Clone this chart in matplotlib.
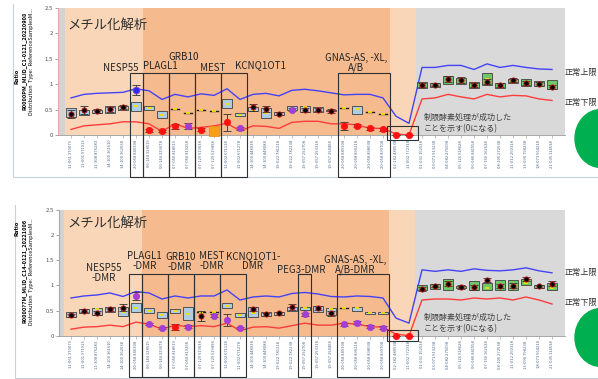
import numpy as np
import matplotlib.pyplot as plt
from matplotlib.patches import Rectangle, Ellipse

plt.rcParams['font.family'] = ['Noto Sans CJK JP', 'DejaVu Sans']

nan = np.nan

# probe names along the x axis (chromosome-position)
probes = ['11-061 370079', '11-001 971913', '11-308 876283', '14-100 361610', '14-100 362038',
          '20-058 840308', '06-144 328519', '06-144 329078', '07-050 818519', '07-050 819258',
          '07-129 919038', '07-129 919898', '11-002 671118', '11-002 671278', '14-100 448038',
          '14-100 448088', '19-022 781218', '19-022 782238', '19-057 292708', '19-057 293318',
          '19-057 294408', '20-058 889308', '20-058 890218', '20-058 898038', '20-058 899708',
          '02-182 480538', '11-002 772318', '01-031 152538', '03-071 913238', '04-082 275098',
          '05-126 918628', '06-080 841558', '07-159 162638', '08-105 272538', '11-012 260318',
          '13-090 798238', '18-073 564218', '21-035 114538']

# ---- upper chart: sample R0000PM ----
top_ratio = [0.42, 0.50, 0.47, 0.51, 0.55, 0.89, 0.09, 0.07, 0.17, 0.17,
             0.10, 0.08, 0.25, 0.13, 0.55, 0.51, 0.42, 0.50, 0.49, 0.50,
             0.48, 0.18, 0.18, 0.13, 0.11, 0.0, 0.0, 0.99, 0.99, 1.10,
             1.08, 0.98, 1.05, 0.99, 1.08, 1.03, 1.01, 0.95]
top_err = [0.08, 0.08, 0.04, 0.05, 0.04, 0.10, 0.03, 0.02, 0.05, 0.06,
           0.03, 0.0, 0.17, 0.03, 0.07, 0.06, 0.03, 0.03, 0.04, 0.03,
           0.04, 0.08, 0.03, 0.03, 0.03, 0.0, 0.0, 0.04, 0.03, 0.06,
           0.06, 0.04, 0.05, 0.04, 0.04, 0.04, 0.04, 0.04]
top_kind = ['k', 'k', 'k', 'k', 'k', 'b', 'r', 'r', 'r', 'p',
            'r', 'o', 'r', 'p', 'k', 'k', 'k', 'p', 'k', 'k',
            'k', 'r', 'r', 'r', 'r', 'r', 'r', 'k', 'k', 'k',
            'k', 'k', 'k', 'k', 'k', 'k', 'k', 'k']
top_box_lo = [0.35, 0.40, 0.44, 0.44, 0.49, 0.47, 0.49, 0.33, 0.51, 0.43,
              0.50, 0.47, 0.53, 0.37, 0.47, 0.33, 0.39, 0.49, 0.45, 0.45,
              0.47, 0.53, 0.42, 0.45, 0.42, nan, nan, 0.93, 0.95, 1.00,
              1.00, 0.93, 0.98, 0.93, 1.02, 0.97, 0.97, 0.90]
top_box_hi = [0.53, 0.50, 0.50, 0.58, 0.58, 0.65, 0.58, 0.47, 0.51, 0.43,
              0.50, 0.47, 0.70, 0.43, 0.55, 0.53, 0.45, 0.57, 0.58, 0.55,
              0.50, 0.53, 0.57, 0.45, 0.42, nan, nan, 1.05, 1.03, 1.17,
              1.13, 1.05, 1.23, 1.03, 1.10, 1.10, 1.07, 1.08]
top_box_med = [0.42, 0.47, 0.47, 0.51, 0.55, 0.57, 0.53, 0.40, 0.51, 0.43,
               0.50, 0.47, 0.61, 0.40, 0.49, 0.43, 0.42, 0.54, 0.55, 0.50,
               0.48, 0.53, 0.51, 0.45, 0.42, nan, nan, 0.99, 0.99, 1.08,
               1.07, 0.98, 1.10, 0.97, 1.05, 1.03, 1.02, 0.97]
top_upper = [0.73, 0.80, 0.82, 0.83, 0.84, 0.91, 0.87, 0.70, 0.80, 0.75,
             0.81, 0.78, 0.91, 0.70, 0.80, 0.82, 0.77, 0.88, 0.90, 0.87,
             0.83, 0.79, 0.80, 0.80, 0.73, 0.37, 0.23, 1.33, 1.33, 1.37,
             1.37, 1.29, 1.40, 1.33, 1.37, 1.33, 1.30, 1.29]
top_lower = [0.11, 0.18, 0.20, 0.22, 0.26, 0.26, 0.22, 0.07, 0.22, 0.13,
             0.15, 0.18, 0.23, 0.08, 0.18, 0.17, 0.13, 0.25, 0.27, 0.27,
             0.22, 0.22, 0.20, 0.13, 0.13, 0.02, 0.0, 0.71, 0.73, 0.80,
             0.75, 0.71, 0.80, 0.75, 0.78, 0.77, 0.71, 0.68]
top_genes = ['NESP55', 'PLAGL1', 'GRB10', 'MEST', 'KCNQ1OT1', 'GNAS-AS, -XL,\nA/B']
top_gene_probes = [[5], [6, 7], [8, 9], [10, 11], [12, 13], [21, 22, 23, 24]]

# ---- lower chart: sample R0000?7M ----
bot_ratio = [0.41, 0.50, 0.46, 0.53, 0.56, 0.79, 0.23, 0.15, 0.18, 0.18,
             0.40, 0.40, 0.31, 0.15, 0.53, 0.43, 0.45, 0.57, 0.43, 0.55,
             0.45, 0.23, 0.26, 0.18, 0.16, 0.0, 0.0, 0.93, 0.99, 1.03,
             0.97, 0.96, 1.11, 0.99, 0.99, 1.13, 0.98, 1.03]
bot_err = [0.03, 0.03, 0.04, 0.03, 0.07, 0.08, 0.02, 0.02, 0.06, 0.03,
           0.10, 0.03, 0.12, 0.02, 0.04, 0.03, 0.03, 0.06, 0.03, 0.04,
           0.05, 0.03, 0.03, 0.03, 0.03, 0.0, 0.0, 0.04, 0.03, 0.05,
           0.04, 0.05, 0.04, 0.04, 0.05, 0.04, 0.03, 0.05]
bot_kind = ['k', 'k', 'k', 'k', 'k', 'p', 'p', 'p', 'r', 'p',
            'k', 'p', 'p', 'p', 'k', 'k', 'k', 'k', 'p', 'k',
            'k', 'p', 'p', 'p', 'p', 'r', 'r', 'k', 'k', 'k',
            'k', 'k', 'k', 'k', 'k', 'k', 'k', 'k']
bot_box_lo = [0.37, 0.45, 0.41, 0.48, 0.39, 0.48, 0.46, 0.35, 0.45, 0.31,
              0.48, 0.48, 0.55, 0.37, 0.38, 0.39, 0.41, 0.50, 0.51, 0.48,
              0.41, 0.55, 0.50, 0.43, 0.43, nan, nan, 0.91, 0.93, 0.91,
              0.95, 0.91, 0.91, 0.91, 0.91, 1.01, 0.95, 0.91]
bot_box_hi = [0.48, 0.53, 0.55, 0.57, 0.58, 0.65, 0.55, 0.48, 0.53, 0.58,
              0.48, 0.48, 0.65, 0.46, 0.57, 0.48, 0.48, 0.58, 0.58, 0.59,
              0.55, 0.55, 0.58, 0.47, 0.47, nan, nan, 1.01, 1.03, 1.13,
              0.99, 1.08, 1.05, 1.10, 1.11, 1.13, 1.00, 1.05]
bot_box_med = [0.41, 0.50, 0.53, 0.53, 0.48, 0.55, 0.50, 0.41, 0.49, 0.43,
               0.48, 0.48, 0.60, 0.41, 0.45, 0.43, 0.45, 0.53, 0.55, 0.55,
               0.53, 0.55, 0.55, 0.45, 0.45, nan, nan, 0.95, 0.99, 1.03,
               0.97, 0.96, 0.95, 0.99, 0.99, 1.05, 0.98, 0.95]
bot_upper = [0.75, 0.79, 0.81, 0.85, 0.78, 0.88, 0.85, 0.73, 0.79, 0.75,
             0.79, 0.79, 0.91, 0.71, 0.77, 0.79, 0.77, 0.84, 0.86, 0.83,
             0.78, 0.77, 0.79, 0.78, 0.75, 0.35, 0.25, 1.31, 1.28, 1.31,
             1.28, 1.33, 1.30, 1.29, 1.31, 1.35, 1.29, 1.25]
bot_lower = [0.13, 0.17, 0.18, 0.21, 0.18, 0.27, 0.23, 0.13, 0.21, 0.18,
             0.20, 0.18, 0.25, 0.10, 0.17, 0.18, 0.15, 0.20, 0.25, 0.21,
             0.21, 0.25, 0.23, 0.18, 0.17, 0.03, 0.0, 0.71, 0.73, 0.73,
             0.71, 0.75, 0.73, 0.75, 0.71, 0.77, 0.71, 0.63]
bot_genes = ['NESP55\n-DMR', 'PLAGL1\n-DMR', 'GRB10\n-DMR', 'MEST\n-DMR', 'KCNQ1OT1-\nDMR',
             'PEG3-DMR', 'GNAS-AS, -XL,\nA/B-DMR']
bot_gene_probes = [[5], [6, 7], [8, 9], [10, 11], [12, 13], [18], [21, 22, 23, 24]]

# probes that should be zero after restriction digest
digest_probes = [25, 26]
# first probe of the control (green) block
control_start = 27

marker_style = {
    'k': dict(marker='o', ms=3.8, mfc='black', mec='#D02020', mew=0.6),
    'r': dict(marker='o', ms=4.6, mfc='#FF1010', mec='#FF1010', mew=0.5),
    'p': dict(marker='o', ms=4.6, mfc='#A43CD6', mec='#A43CD6', mew=0.5),
    'b': dict(marker='o', ms=4.8, mfc='#2A2AF0', mec='#8A3CD0', mew=0.6),
    'o': dict(marker='s', ms=6.6, mfc='#F7A11A', mec='#E58A00', mew=0.5),
}


def draw_panel(ax, ratio, err, kind, box_lo, box_hi, box_med, upper, lower,
               genes, gene_probes, gene_xy, gene_top, gene_bot, digest_top, note_y, title_y,
               spine_col, x0):
    n = len(ratio)
    x = np.arange(n)

    # background regions
    ax.axvspan(-1.5, -0.5, color='#D3D3D3', lw=0, zorder=0)
    ax.axvspan(-0.5, 5.5, color='#FAD6B8', lw=0, zorder=0)
    ax.axvspan(5.5, 24.5, color='#F5BA8E', lw=0, zorder=0)
    ax.axvspan(24.5, 26.5, color='#FAD6B8', lw=0, zorder=0)
    ax.axvspan(26.5, 38.5, color='#D9D9D9', lw=0, zorder=0)

    # normal range limits
    ax.plot(x, upper, color='#4343F5', lw=1.0, zorder=1)
    ax.plot(x, lower, color='#FF3C3C', lw=1.0, zorder=1)

    # reference distribution boxes
    for i in range(n):
        if np.isnan(box_med[i]):
            continue
        fc = '#6DC86A' if i >= control_start else '#AECDE2'
        if box_hi[i] - box_lo[i] < 0.005:
            ax.plot([i - 0.32, i + 0.32], [box_med[i], box_med[i]], color='#202020', lw=1.0, zorder=2)
        else:
            ax.add_patch(Rectangle((i - 0.42, box_lo[i]), 0.84, box_hi[i] - box_lo[i],
                                   fc=fc, ec='#404040', lw=0.6, zorder=2))
        ax.plot(i, box_med[i], marker='_', color='#F2E200', ms=3.2, mew=1.3, zorder=2.5)

    # sample values
    ax.errorbar(x, ratio, yerr=err, fmt='none', ecolor='#303030', elinewidth=0.6,
                capsize=2.8, capthick=0.6, zorder=3)
    for i in range(n):
        ax.plot(i, ratio[i], ls='none', zorder=4, clip_on=False, **marker_style[kind[i]])

    # gene boxes and labels
    for g, idx, (gx, gy) in zip(genes, gene_probes, gene_xy):
        ax.add_patch(Rectangle((idx[0] - 0.5, gene_bot), len(idx), gene_top - gene_bot,
                               fill=False, ec='#303030', lw=0.8, clip_on=False, zorder=5))
        ax.text(gx, gy, g, fontsize=7, ha='center', va='center', linespacing=1.0,
                color='#262626', zorder=6)
    ax.add_patch(Rectangle((digest_probes[0] - 0.7, -0.1), len(digest_probes) + 0.4, digest_top + 0.1,
                           fill=False, ec='#303030', lw=0.8, clip_on=False, zorder=5))
    ax.text(27.1, note_y, '制限酵素処理が成功した\nことを示す(0になる)', fontsize=5.8,
            ha='left', va='center', linespacing=1.25, color='#404040', zorder=6)

    ax.text(-0.25, title_y, 'メチル化解析', fontsize=9.6, ha='left', va='center', color='#303030', zorder=6)

    # axes
    ax.set_xlim(x0, 38)
    ax.set_ylim(0, 2.5)
    ax.set_yticks([0, 0.5, 1, 1.5, 2, 2.5])
    ax.set_yticklabels(['0', '0.5', '1', '1.5', '2', '2.5'])
    ax.set_xticks(x)
    ax.set_xticklabels(probes, rotation=90, fontsize=3, color='#50688C')
    ax.tick_params(axis='y', labelsize=4.3, labelcolor='#505050', length=2.5, width=0.5, color='#808080', pad=1)
    ax.tick_params(axis='x', length=2.0, width=0.4, color='#909090', pad=1.5)
    for s in ['top', 'right']:
        ax.spines[s].set_visible(False)
    ax.spines['bottom'].set_color('#9A9A9A')
    ax.spines['bottom'].set_linewidth(0.6)
    ax.spines['left'].set_color(spine_col)
    ax.spines['left'].set_linewidth(0.8)


fig = plt.figure(figsize=(5.98, 3.79), dpi=100)

# overlay in pixel coordinates for the frame and side annotations
ov = fig.add_axes([0, 0, 1, 1])
ov.set_xlim(0, 598)
ov.set_ylim(379, 0)
ov.axis('off')
ov.plot([13, 13, 598], [4, 177, 177], color='#C5D0DE', lw=0.8)
ov.plot([15, 15, 598], [205, 378, 378], color='#C5D0DE', lw=0.8)
for yc, yu, yl in [(138.5, 72, 102), (337.5, 272, 303)]:
    ov.add_patch(Ellipse((601, yc), 52, 58, color='#00B050'))
    ov.text(565, yu, '正常上限', fontsize=5.9, ha='left', va='center', color='#303030')
    ov.text(565, yl, '正常下限', fontsize=5.9, ha='left', va='center', color='#303030')
ov.text(17, 76, 'Ratio', fontsize=4.2, rotation=90, ha='center', va='center', fontweight='bold')
ov.text(24, 61, 'R0000PM_MLID_C1-0121_20220908', fontsize=4.0, rotation=90, ha='center', va='center', fontweight='bold')
ov.text(32, 62, 'Distribution  Type:  ReferenceSamplesM...', fontsize=4.0, rotation=90, ha='center', va='center')
ov.text(17, 228, 'Ratio', fontsize=4.2, rotation=90, ha='center', va='center', fontweight='bold')
ov.text(24, 271, 'R0000?7M_MLID_C14-0121_20221006', fontsize=4.0, rotation=90, ha='center', va='center', fontweight='bold')
ov.text(32, 272, 'Distribution  Type:  ReferenceSamplesM...', fontsize=4.0, rotation=90, ha='center', va='center')

ax1 = fig.add_axes([58 / 598, 1 - 135 / 379, 507 / 598, 127 / 379])
ax1.patch.set_alpha(0)
draw_panel(ax1, top_ratio, top_err, top_kind, top_box_lo, top_box_hi, top_box_med,
           top_upper, top_lower, top_genes, top_gene_probes,
           [(3.8, 1.32), (6.85, 1.36), (8.7, 1.54), (10.9, 1.32), (14.6, 1.38), (21.9, 1.42)],
           1.23, -0.83, 0.18, 0.24, 2.17, '#E8A8A8', -1.0)

ax2 = fig.add_axes([59 / 598, 1 - 335.7 / 379, 506 / 598, 125.7 / 379])
ax2.patch.set_alpha(0)
draw_panel(ax2, bot_ratio, bot_err, bot_kind, bot_box_lo, bot_box_hi, bot_box_med,
           bot_upper, bot_lower, bot_genes, bot_gene_probes,
           [(2.5, 1.25), (5.65, 1.48), (8.4, 1.47), (10.8, 1.48), (14.0, 1.48), (17.7, 1.31), (21.9, 1.41)],
           1.23, -0.82, 0.11, 0.25, 2.24, '#A8A8A8', -0.92)

plt.savefig('out.png', dpi=100)
